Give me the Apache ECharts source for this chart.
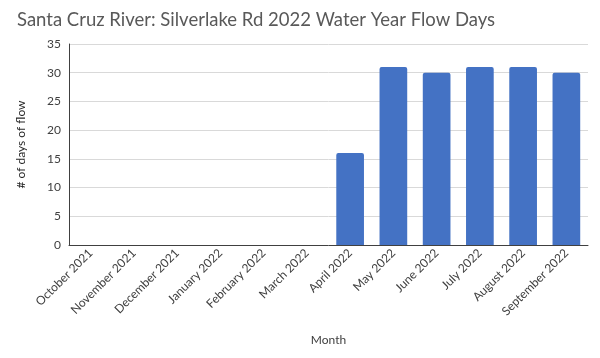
<!DOCTYPE html>
<html><head><meta charset="utf-8">
<script src="https://cdn.jsdelivr.net/npm/echarts@6/dist/echarts.min.js"></script>
<style>html,body{margin:0;padding:0;background:#fff}#c{width:600px;height:358px}</style>
</head><body><div id="c"></div>
<script>
const categories = ["October 2021","November 2021","December 2021","January 2022","February 2022","March 2022","April 2022","May 2022","June 2022","July 2022","August 2022","September 2022"];
const flowDays = [0,0,0,0,0,0,16,31,30,31,31,30];
const yTicks = {min:0, max:35, interval:5};

const chart = echarts.init(document.getElementById('c'), null, {renderer:'canvas'});
chart.setOption({
  animation:false,
  title:{text:"Santa Cruz River: Silverlake Rd 2022 Water Year Flow Days", left:12, top:6,
    textStyle:{fontFamily:"Lato", fontSize:18.5, fontWeight:'normal', color:'#595959'}},
  grid:{left:69, right:12, top:44, bottom:113},
  xAxis:{type:'category', data:categories,
    axisLine:{lineStyle:{color:'#404040', width:1}},
    axisTick:{show:false},
    axisLabel:{rotate:45, interval:0, fontFamily:"Lato", fontSize:12, color:'#404040', margin:6},
    name:'Month', nameLocation:'middle', nameGap:89,
    nameTextStyle:{fontFamily:"Lato", fontSize:12, color:'#404040'}},
  yAxis:{type:'value', min:yTicks.min, max:yTicks.max, interval:yTicks.interval,
    axisLine:{show:true, lineStyle:{color:'#404040', width:1}},
    axisTick:{show:false},
    splitLine:{lineStyle:{color:'#d9d9d9'}},
    axisLabel:{fontFamily:"Lato", fontSize:12, color:'#404040', margin:8},
    name:'# of days of flow', nameLocation:'middle', nameGap:42, nameRotate:90,
    nameTextStyle:{fontFamily:"Lato", fontSize:12, color:'#262626'}},
  series:[{type:'bar', data:flowDays, barWidth:'64%',
    itemStyle:{color:'#4472C4', borderRadius:[2,2,0,0]}}]
});
</script></body></html>
